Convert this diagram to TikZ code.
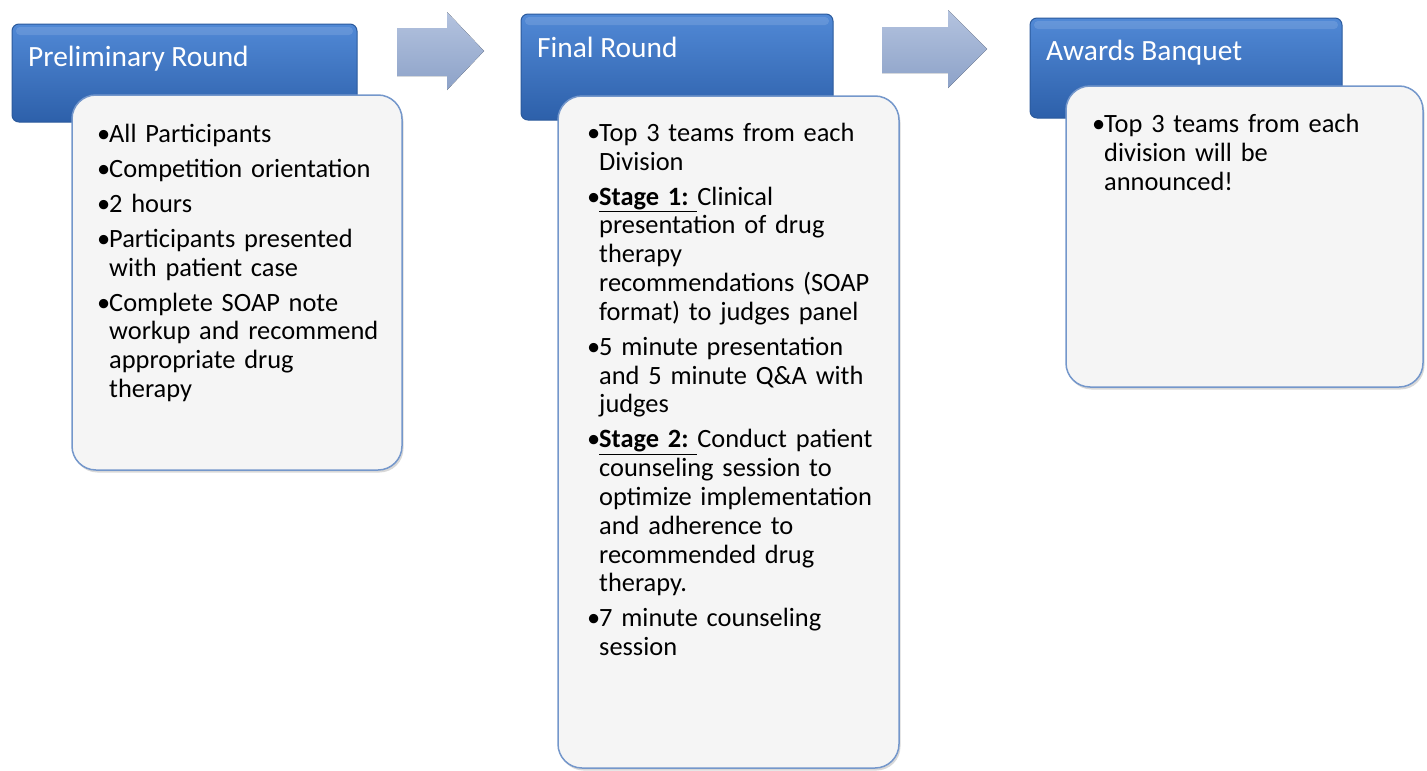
\documentclass[tikz,border=0pt]{standalone}
\usepackage{fontspec}
\setmainfont{Carlito}
\usetikzlibrary{shadows}
\definecolor{hdtop}{HTML}{5189D6}
\definecolor{hdbot}{HTML}{2D60AA}
\definecolor{hdline}{HTML}{2B5A9C}
\definecolor{boxfill}{HTML}{F5F5F5}
\definecolor{boxline}{HTML}{7497CB}
\definecolor{arrtop}{HTML}{B4C3DF}
\definecolor{arrbot}{HTML}{8DA2C8}
\tikzset{
  header/.style={rounded corners=7pt, top color=hdtop, bottom color=hdbot, draw=hdline, line width=1pt},
  gloss/.style={fill=white, opacity=0.12, rounded corners=4pt},
  contentbox/.style={rounded corners=24pt, fill=boxfill, draw=boxline, line width=1.5pt,
    drop shadow={opacity=0.3, shadow xshift=1.5pt, shadow yshift=-2.5pt}},
  flowarrow/.style={top color=arrtop, bottom color=arrbot, draw=none},
  headtext/.style={anchor=base west, inner sep=0pt, text=white, font=\fontsize{29.4}{32}\selectfont},
  bodytext/.style={anchor=base west, inner sep=0pt, text width=#1, align=left, font=\fontsize{26.4}{28.8}\selectfont},
}
\newcommand{\bitem}[1]{\par\hangindent=12pt\hangafter=1\noindent\makebox[12pt][l]{•}#1\par}
\newcommand{\bgap}{\vspace{6.2pt}}
\newcommand{\stagelabel}[1]{\underline{\textbf{#1}\ }}
\begin{document}
\begin{tikzpicture}[x=1pt,y=-1pt]
\useasboundingbox (0,0) rectangle (1427,771);
\fill[white] (0,0) rectangle (1427,771);

% arrows
\fill[flowarrow] (397,28) -- (447,28) -- (447,12) -- (484,51) -- (447,90) -- (447,76) -- (397,76) -- cycle;
\fill[flowarrow] (882,27) -- (948,27) -- (948,10) -- (987,49) -- (948,88) -- (948,73) -- (882,73) -- cycle;

% headers
\draw[header] (12,24) rectangle (357,122);
\fill[gloss] (16,27) rectangle (353,35);
\node[headtext] (h1) at (28,66) {Preliminary Round};

\draw[header] (521,14) rectangle (833,120);
\fill[gloss] (525,17) rectangle (829,25);
\node[headtext] (h2) at (537,57) {Final Round};

\draw[header] (1030,18) rectangle (1342,118);
\fill[gloss] (1034,21) rectangle (1338,29);
\node[headtext] (h3) at (1046,60) {Awards Banquet};

% content boxes
\draw[contentbox] (72,95) rectangle (402,470);
\node[bodytext=300pt] (b1) at (97,113.5) {%
\bitem{All Participants}\bgap
\bitem{Competition orientation}\bgap
\bitem{2 hours}\bgap
\bitem{Participants presented\newline with patient case}\bgap
\bitem{Complete SOAP note\newline workup and recommend\newline appropriate drug\newline therapy}};

\draw[contentbox] (558,96) rectangle (899,768);
\node[bodytext=320pt] (b2) at (587,112.5) {%
\bitem{Top 3 teams from each\newline Division}\bgap
\bitem{\stagelabel{Stage 1:}Clinical\newline presentation of drug\newline therapy\newline recommendations (SOAP\newline format) to judges panel}\bgap
\bitem{5 minute presentation\newline and 5 minute Q\&A with\newline judges}\bgap
\bitem{\stagelabel{Stage 2:}Conduct patient\newline counseling session to\newline optimize implementation\newline and adherence to\newline recommended drug\newline therapy.}\bgap
\bitem{7 minute counseling\newline session}};

\draw[contentbox] (1066,86) rectangle (1423,387);
\node[bodytext=320pt] (b3) at (1092,104) {%
\bitem{Top 3 teams from each\newline division will be\newline announced!}};
\end{tikzpicture}
\end{document}
